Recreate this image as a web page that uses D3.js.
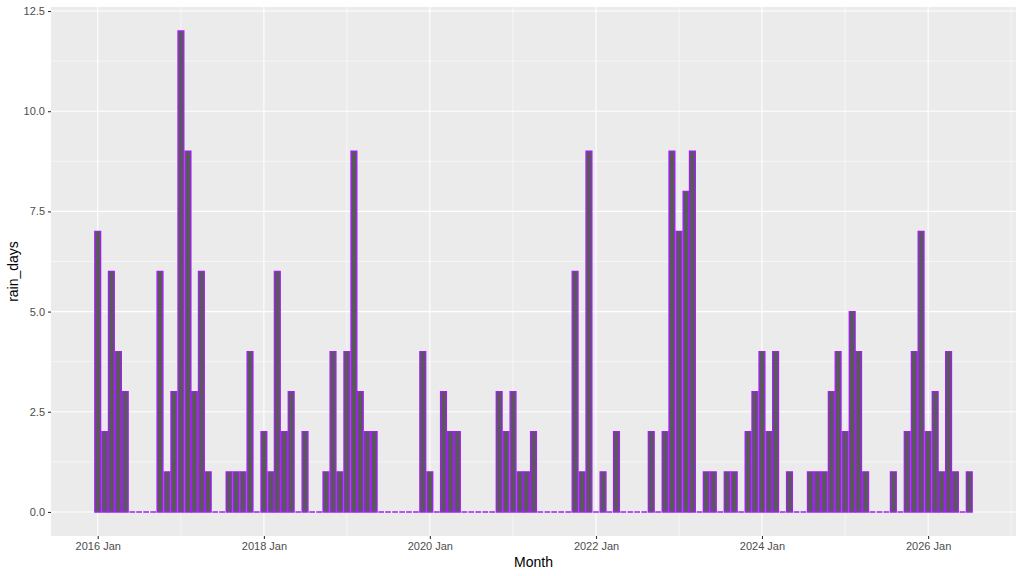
<!DOCTYPE html>
<html>
<head>
<meta charset="utf-8">
<script src="https://cdn.jsdelivr.net/npm/d3@7"></script>
<style>
  body { margin: 0; background: #fff; }
  svg text { font-family: "Liberation Sans", Arial, sans-serif; }
</style>
</head>
<body>
<div id="chart"></div>
<script>
// first month of the series and monthly rain-day counts
var startYear = 2016;
var rainDays = [
  7, 2, 6, 4, 3, 0, 0, 0, 0, 6, 1, 3,      // 2016
  12, 9, 3, 6, 1, 0, 0, 1, 1, 1, 4, 0,     // 2017
  2, 1, 6, 2, 3, 0, 2, 0, 0, 1, 4, 1,      // 2018
  4, 9, 3, 2, 2, 0, 0, 0, 0, 0, 0, 4,      // 2019
  1, 0, 3, 2, 2, 0, 0, 0, 0, 0, 3, 2,      // 2020
  3, 1, 1, 2, 0, 0, 0, 0, 0, 6, 1, 9,      // 2021
  0, 1, 0, 2, 0, 0, 0, 0, 2, 0, 2, 9,      // 2022
  7, 8, 9, 0, 1, 1, 0, 1, 1, 0, 2, 3,      // 2023
  4, 2, 4, 0, 1, 0, 0, 1, 1, 1, 3, 4,      // 2024
  2, 5, 4, 1, 0, 0, 0, 1, 0, 2, 4, 7,      // 2025
  2, 3, 1, 4, 1, 0, 1                      // 2026
];
var yTicks = [0, 2.5, 5, 7.5, 10, 12.5];
var xTickYears = [2016, 2018, 2020, 2022, 2024, 2026];

var data = rainDays.map(function(v, i) {
  return { month: new Date(startYear, i, 1), value: v };
});

var width = 1023, height = 576;
var margin = { top: 7, right: 7, bottom: 40, left: 51 };
var pw = width - margin.left - margin.right,
    ph = height - margin.top - margin.bottom;

var DAY = 864e5;
var barDays = 0.9 * 28;   // ggplot width: 0.9 * smallest gap between dates

var t0 = data[0].month.getTime() - barDays / 2 * DAY,
    t1 = data[data.length - 1].month.getTime() + barDays / 2 * DAY,
    pad = (t1 - t0) * 0.05;

var x = d3.scaleTime()
  .domain([new Date(t0 - pad), new Date(t1 + pad)])
  .range([0, pw]);

var yMax = d3.max(data, function(d) { return d.value; });
var y = d3.scaleLinear()
  .domain([-yMax * 0.05, yMax * 1.05])
  .range([ph, 0]);

var svg = d3.select("#chart").append("svg")
  .attr("width", width)
  .attr("height", height);

var g = svg.append("g")
  .attr("transform", "translate(" + margin.left + "," + margin.top + ")");

// panel
g.append("rect")
  .attr("width", pw)
  .attr("height", ph)
  .attr("fill", "#EBEBEB");

// minor grid
var yMinor = yTicks.slice(0, -1).map(function(t) { return t + 1.25; });
g.selectAll(".yminor").data(yMinor).enter().append("line")
  .attr("x1", 0).attr("x2", pw)
  .attr("y1", function(d) { return y(d); })
  .attr("y2", function(d) { return y(d); })
  .attr("stroke", "#fff").attr("stroke-width", 0.55);

var xMinor = d3.range(2015, 2028, 2).map(function(yr) { return new Date(yr, 0, 1); })
  .filter(function(d) { return x(d) >= 0 && x(d) <= pw; });
g.selectAll(".xminor").data(xMinor).enter().append("line")
  .attr("y1", 0).attr("y2", ph)
  .attr("x1", function(d) { return x(d); })
  .attr("x2", function(d) { return x(d); })
  .attr("stroke", "#fff").attr("stroke-width", 0.55);

// major grid
g.selectAll(".ymajor").data(yTicks).enter().append("line")
  .attr("x1", 0).attr("x2", pw)
  .attr("y1", function(d) { return y(d); })
  .attr("y2", function(d) { return y(d); })
  .attr("stroke", "#fff").attr("stroke-width", 1.1);

var xMajor = xTickYears.map(function(yr) { return new Date(yr, 0, 1); });
g.selectAll(".xmajor").data(xMajor).enter().append("line")
  .attr("y1", 0).attr("y2", ph)
  .attr("x1", function(d) { return x(d); })
  .attr("x2", function(d) { return x(d); })
  .attr("stroke", "#fff").attr("stroke-width", 1.1);

// bars (paths so zero-height months still show their outline)
g.selectAll(".bar").data(data).enter().append("path")
  .attr("class", "bar")
  .attr("d", function(d) {
    var t = d.month.getTime();
    var xa = x(new Date(t - barDays / 2 * DAY)),
        xb = x(new Date(t + barDays / 2 * DAY)),
        y0 = y(0), y1 = y(d.value);
    return "M" + xa + "," + y0 + "V" + y1 + "H" + xb + "V" + y0 + "Z";
  })
  .attr("fill", "#595959")
  .attr("stroke", "#A020F0")
  .attr("stroke-width", 1.4);

// axes
var xAxis = g.append("g")
  .attr("transform", "translate(0," + ph + ")")
  .call(d3.axisBottom(x).tickValues(xMajor)
    .tickFormat(d3.timeFormat("%Y %b")).tickSize(3).tickPadding(3));

var yAxis = g.append("g")
  .call(d3.axisLeft(y).tickValues(yTicks)
    .tickFormat(d3.format(".1f")).tickSize(3).tickPadding(3));

[xAxis, yAxis].forEach(function(a) {
  a.select(".domain").remove();
  a.selectAll(".tick line").attr("stroke", "#333333").attr("stroke-width", 1.1);
  a.selectAll(".tick text")
    .attr("fill", "#4D4D4D")
    .style("font-size", "11px")
    .style("font-family", "'Liberation Sans', Arial, sans-serif");
});

// axis titles
svg.append("text")
  .attr("x", margin.left + pw / 2)
  .attr("y", 567)
  .attr("text-anchor", "middle")
  .style("font-size", "14px")
  .attr("fill", "#000")
  .text("Month");

svg.append("text")
  .attr("transform", "translate(18," + (margin.top + ph / 2) + ") rotate(-90)")
  .attr("text-anchor", "middle")
  .style("font-size", "14px")
  .attr("fill", "#000")
  .text("rain_days");
</script>
</body>
</html>
